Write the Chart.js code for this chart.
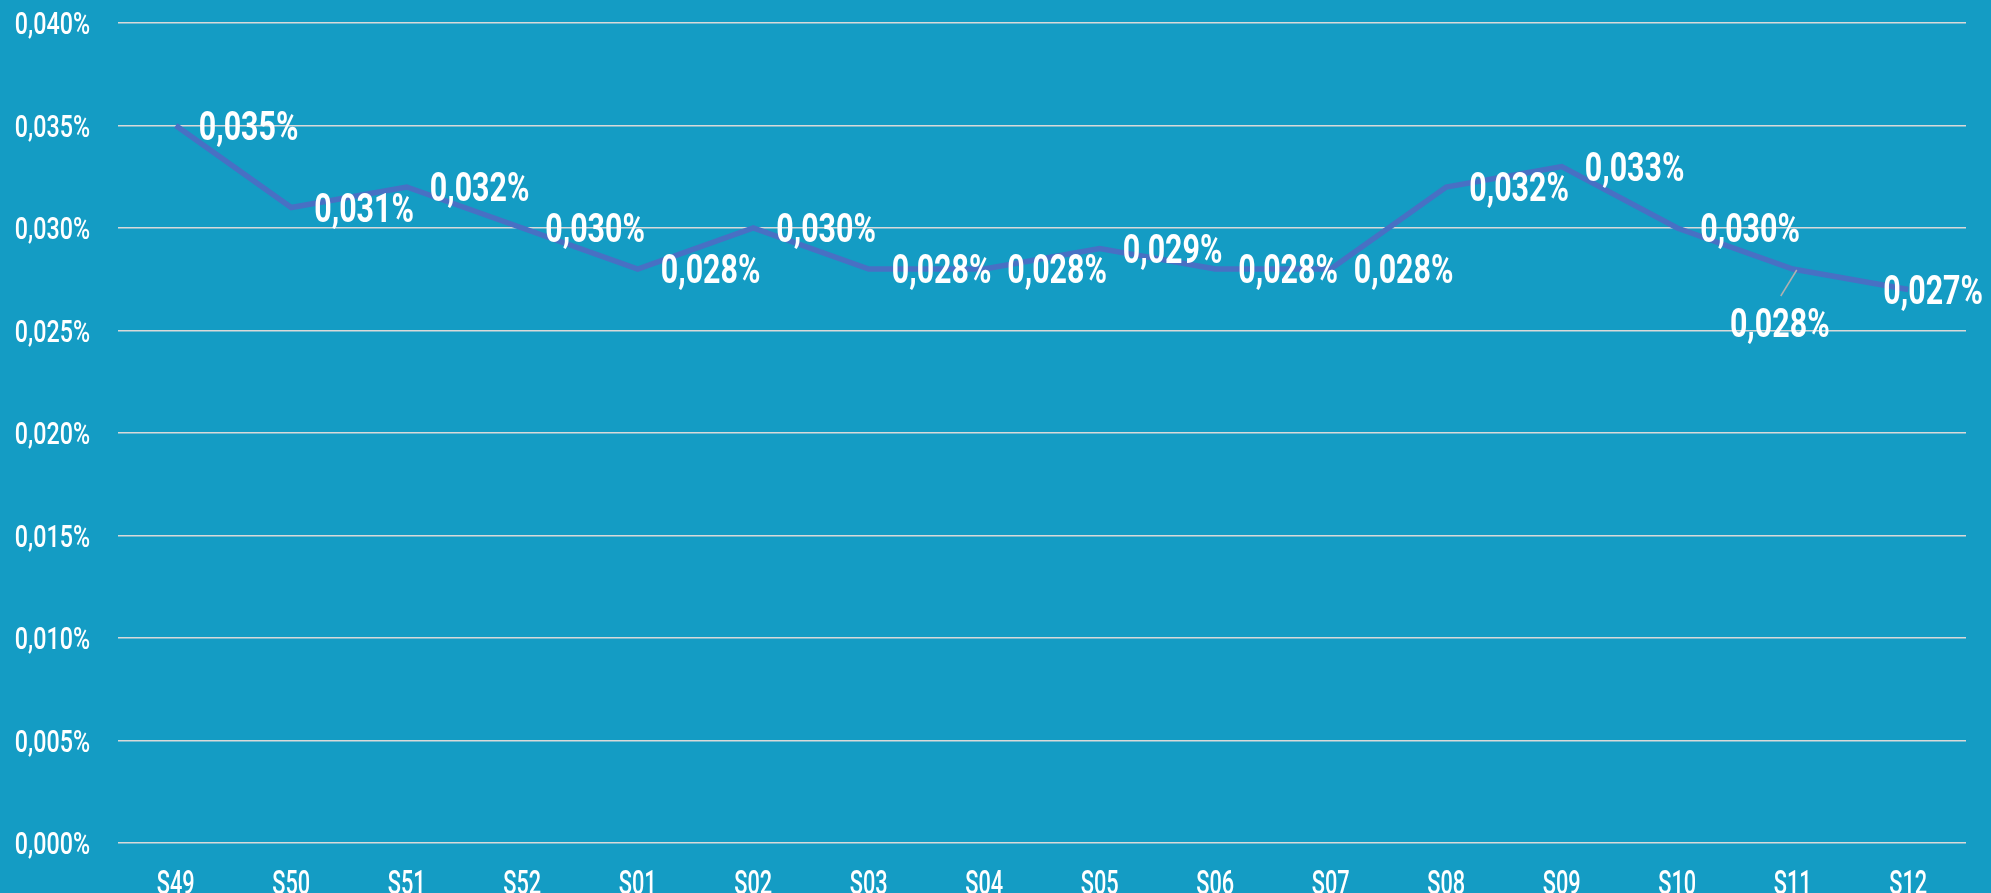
<!DOCTYPE html>
<html>
<head>
<meta charset="utf-8">
<script src="https://cdn.jsdelivr.net/npm/chart.js@4/dist/chart.umd.min.js"></script>
<style>
    html, body { margin: 0; padding: 0; background: #149cc4; }
    #wrap { width: 1991px; height: 893px; }
</style>
</head>
<body>
<div id="wrap"><canvas id="rateChart"></canvas></div>
<script>
// Data
const weeks = ['S49', 'S50', 'S51', 'S52', 'S01', 'S02', 'S03', 'S04',
               'S05', 'S06', 'S07', 'S08', 'S09', 'S10', 'S11', 'S12'];
const rates = [0.035, 0.031, 0.032, 0.030, 0.028, 0.030, 0.028, 0.028,
               0.029, 0.028, 0.028, 0.032, 0.033, 0.030, 0.028, 0.027];
const yTicks = [0, 0.005, 0.010, 0.015, 0.020, 0.025, 0.030, 0.035, 0.040];

const FONT = 'Roboto, "Noto Sans", sans-serif';

function fmt(v) {
    return v.toFixed(3).replace('.', ',') + '%';
}

// condensed text: squeeze the glyphs horizontally
function drawNarrow(ctx, text, x, y, align, sx) {
    ctx.save();
    ctx.translate(x, y);
    ctx.scale(sx, 1);
    ctx.textAlign = align;
    ctx.fillText(text, 0, 0);
    ctx.restore();
}

// axis labels drawn from the scales, so they can be condensed
const axisLabels = {
    id: 'axisLabels',
    afterDraw(chart) {
        const ctx = chart.ctx;
        const xs = chart.scales.x;
        const ys = chart.scales.y;
        ctx.save();
        ctx.fillStyle = '#ffffff';
        ctx.textBaseline = 'alphabetic';
        ctx.font = '500 31px ' + FONT;
        yTicks.forEach(v => {
            drawNarrow(ctx, fmt(v), 90, ys.getPixelForValue(v) + 11, 'right', 0.75);
        });
        ctx.font = '500 34px ' + FONT;
        weeks.forEach((w, i) => {
            drawNarrow(ctx, w, xs.getPixelForValue(i), 894, 'center', 0.64);
        });
        ctx.restore();
    }
};

// draws the value next to each point (S11 sits below with a leader line)
const valueLabels = {
    id: 'valueLabels',
    afterDatasetsDraw(chart) {
        const ctx = chart.ctx;
        const meta = chart.getDatasetMeta(0);
        const sx = 0.76;
        ctx.save();
        ctx.font = 'bold 40px ' + FONT;
        ctx.fillStyle = '#ffffff';
        ctx.textBaseline = 'alphabetic';
        meta.data.forEach((pt, i) => {
            const text = fmt(rates[i]);
            if (weeks[i] === 'S11') {
                ctx.strokeStyle = '#b0b0b0';
                ctx.lineWidth = 1.5;
                ctx.beginPath();
                ctx.moveTo(pt.x + 4, pt.y + 1);
                ctx.lineTo(pt.x - 12, pt.y + 27);
                ctx.stroke();
                drawNarrow(ctx, text, pt.x - 13, pt.y + 68, 'center', sx);
            } else {
                const w = ctx.measureText(text).width * sx;
                const x = Math.min(pt.x + 23, chart.width - 8 - w);
                drawNarrow(ctx, text, x, pt.y + 14, 'left', sx);
            }
        });
        ctx.restore();
    }
};

const bgPlugin = {
    id: 'bg',
    beforeDraw(chart) {
        const ctx = chart.ctx;
        ctx.save();
        ctx.fillStyle = '#149cc4';
        ctx.fillRect(0, 0, chart.width, chart.height);
        ctx.restore();
    }
};

const ctx = document.getElementById('rateChart').getContext('2d');
new Chart(ctx, {
    type: 'line',
    data: {
        labels: weeks,
        datasets: [{
            data: rates,
            borderColor: '#4870c4',
            borderWidth: 5.5,
            pointRadius: 0,
            tension: 0,
            fill: false,
            clip: false
        }]
    },
    options: {
        responsive: true,
        maintainAspectRatio: false,
        animation: false,
        layout: { padding: { top: 23, right: 25, left: 0, bottom: 0 } },
        plugins: {
            legend: { display: false },
            tooltip: { enabled: false }
        },
        scales: {
            x: {
                offset: true,
                grid: { display: false, drawTicks: false },
                border: { display: false },
                ticks: { display: false },
                afterFit(scale) { scale.height = 50; }
            },
            y: {
                min: 0,
                max: 0.040,
                afterBuildTicks(scale) {
                    scale.ticks = yTicks.map(v => ({ value: v }));
                },
                grid: { color: '#d9d9d9', lineWidth: 1.5, drawTicks: false },
                border: { display: false },
                ticks: { display: false },
                afterFit(scale) { scale.width = 118; }
            }
        }
    },
    plugins: [bgPlugin, axisLabels, valueLabels]
});
</script>
</body>
</html>
